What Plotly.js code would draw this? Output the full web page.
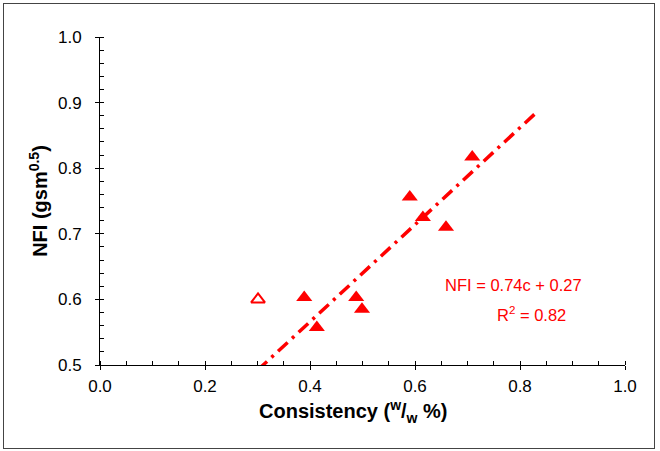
<!DOCTYPE html>
<html>
<head>
<meta charset="utf-8">
<script src="https://cdn.plot.ly/plotly-3.0.1.min.js"></script>
<style>
html,body{margin:0;padding:0;background:#fff;}
#chart{width:660px;height:451px;position:absolute;left:0;top:0;}
#frame{position:absolute;left:3px;top:3px;width:650px;height:444px;border:1px solid #444;pointer-events:none;}
</style>
</head>
<body>
<div id="chart"></div>
<div id="frame"></div>
<script>
// Filled data points: consistency (w/w %) and NFI (gsm^0.5)
var consistency = [0.389, 0.413, 0.488, 0.499, 0.590, 0.615, 0.659, 0.709];
var nfi = [0.603, 0.557, 0.603, 0.585, 0.756, 0.725, 0.710, 0.817];
// Open (excluded) point
var openConsistency = [0.301];
var openNfi = [0.600];
// Regression line endpoints (NFI = 0.74c + 0.27)
var fitX = [0.30, 0.83];
var fitY = [0.492, 0.884];
var eqText = "NFI = 0.74c + 0.27";
var r2Text = "R<sup>2</sup> = 0.82";
var xTitle = "<b>Consistency (<sup>w</sup>/<sub>w</sub> %)</b>";
var yTitle = "<b>NFI (gsm<sup>0.5</sup>)</b>";
var xTicks = [0.0, 0.2, 0.4, 0.6, 0.8, 1.0];
var xTickText = ["0.0", "0.2", "0.4", "0.6", "0.8", "1.0"];
var yTicks = [0.5, 0.6, 0.7, 0.8, 0.9, 1.0];
var yTickText = ["0.5", "0.6", "0.7", "0.8", "0.9", "1.0"];

var red = "#FF0000";
var fam = "Liberation Sans, Arial, sans-serif";
var traces = [
  {x: fitX, y: fitY, mode: "lines", type: "scatter",
   line: {color: red, width: 3.5, dash: "13px,6px,3px,6px"}, hoverinfo: "skip"},
  {x: consistency, y: nfi, mode: "markers", type: "scatter",
   marker: {symbol: "triangle-up", size: 14, color: red}},
  {x: openConsistency, y: openNfi, mode: "markers", type: "scatter",
   xaxis: "x2", yaxis: "y2",
   marker: {symbol: "triangle-up-open", size: 12, color: red, line: {color: red, width: 2}}}
];

var axisFont = {family: fam, size: 17, color: "#000"};
var layout = {
  width: 660, height: 451,
  margin: {l: 100, r: 35, t: 37, b: 86, pad: 0},
  paper_bgcolor: "#fff", plot_bgcolor: "#fff",
  showlegend: false,
  font: axisFont,
  xaxis: {
    range: [0, 1], tickvals: xTicks, ticktext: xTickText,
    showgrid: false, zeroline: false, showline: true, linecolor: "#000", linewidth: 1,
    ticks: "outside", ticklen: 4, tickcolor: "#000", tickwidth: 1,
    minor: {dtick: 0.05, ticks: "inside", ticklen: 4, tickcolor: "#000", tickwidth: 1, showgrid: false},
    tickfont: axisFont, fixedrange: true, ticklabelstandoff: 2
  },
  yaxis: {
    range: [0.5, 1.0], tickvals: yTicks, ticktext: yTickText,
    showgrid: false, zeroline: false, showline: true, linecolor: "#000", linewidth: 1,
    ticks: "outside", ticklen: 4, tickcolor: "#000", tickwidth: 1,
    minor: {dtick: 0.02, tick0: 0.5, ticks: "inside", ticklen: 4, tickcolor: "#000", tickwidth: 1, showgrid: false},
    tickfont: axisFont, fixedrange: true, ticklabelstandoff: 10,
    title: {text: yTitle, font: {family: fam, size: 20, color: "#000"}, standoff: 4}
  },
  xaxis2: {
    overlaying: "x", range: [0, 1], tickvals: xTicks, showticklabels: false,
    showgrid: false, zeroline: false, showline: false,
    ticks: "inside", ticklen: 4, tickcolor: "#000", tickwidth: 1, fixedrange: true
  },
  yaxis2: {
    overlaying: "y", range: [0.5, 1.0], tickvals: yTicks, showticklabels: false,
    showgrid: false, zeroline: false, showline: false,
    ticks: "inside", ticklen: 4, tickcolor: "#000", tickwidth: 1, fixedrange: true
  },
  annotations: [
    {xref: "paper", yref: "paper", x: 0.482, y: -0.143, text: xTitle, showarrow: false,
     font: {family: fam, size: 20, color: "#000"}, xanchor: "center", yanchor: "middle"},
    {xref: "x", yref: "y", x: 0.787, y: 0.622, text: eqText, showarrow: false,
     font: {family: fam, size: 16.5, color: red}, xanchor: "center"},
    {xref: "x", yref: "y", x: 0.821, y: 0.577, text: r2Text, showarrow: false,
     font: {family: fam, size: 16.5, color: red}, xanchor: "center"}
  ]
};

Plotly.newPlot("chart", traces, layout, {displayModeBar: false, staticPlot: true});
</script>
</body>
</html>
